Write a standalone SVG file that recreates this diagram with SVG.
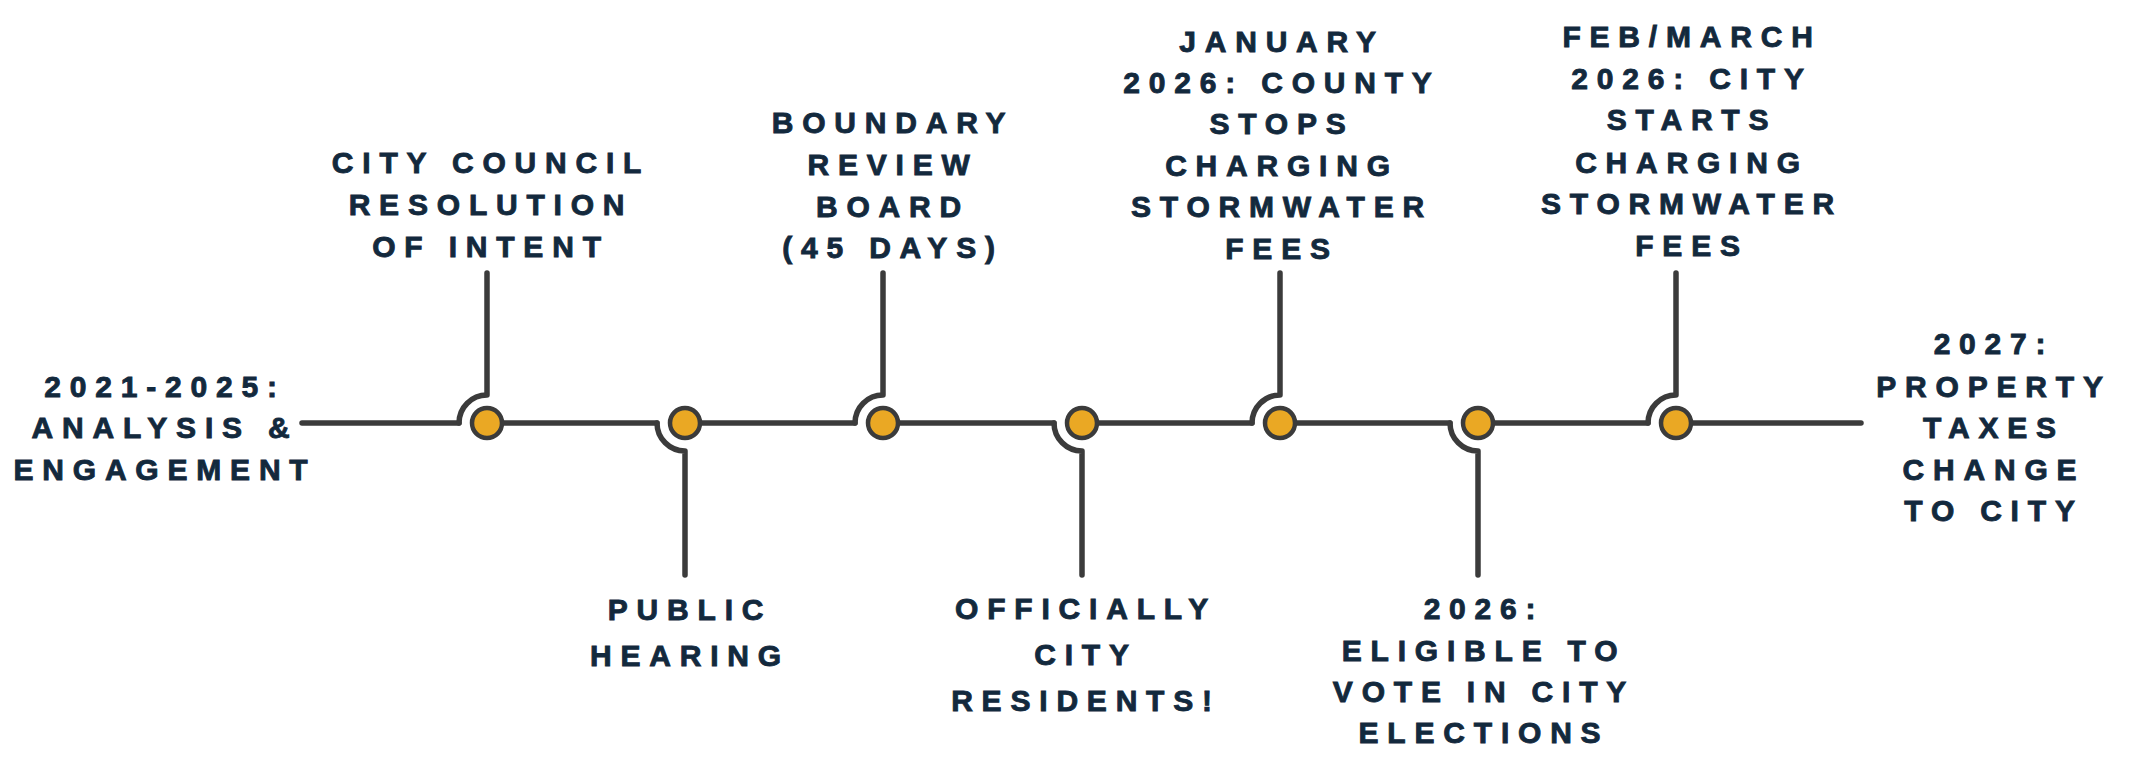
<svg xmlns="http://www.w3.org/2000/svg" width="2134" height="771" viewBox="0 0 2134 771">
<style>
.ln{fill:none;stroke:#3b3b3b;stroke-width:5.5;stroke-linecap:round;stroke-linejoin:round}
.dot{fill:#eaa824;stroke:#3b3b3b;stroke-width:4.5}
.t{font-family:"Liberation Sans",Arial,sans-serif;font-weight:bold;font-size:30px;letter-spacing:8.8px;fill:#13293d;stroke:#13293d;stroke-width:0.9;text-anchor:middle}
</style>
<rect width="2134" height="771" fill="#ffffff"/>
<g id="connectors">
<path class="ln" d="M302,423 L459,423"/>
<path class="ln" d="M487,423 L657,423"/>
<path class="ln" d="M685,423 L855,423"/>
<path class="ln" d="M883,423 L1054,423"/>
<path class="ln" d="M1082,423 L1252,423"/>
<path class="ln" d="M1280,423 L1450,423"/>
<path class="ln" d="M1478,423 L1648,423"/>
<path class="ln" d="M1676,423 L1861,423"/>
<path class="ln" d="M459,423 A28,28 0 0 1 487,395 L487,273"/>
<path class="ln" d="M657,423 A28,28 0 0 0 685,451 L685,575"/>
<path class="ln" d="M855,423 A28,28 0 0 1 883,395 L883,273"/>
<path class="ln" d="M1054,423 A28,28 0 0 0 1082,451 L1082,575"/>
<path class="ln" d="M1252,423 A28,28 0 0 1 1280,395 L1280,273"/>
<path class="ln" d="M1450,423 A28,28 0 0 0 1478,451 L1478,575"/>
<path class="ln" d="M1648,423 A28,28 0 0 1 1676,395 L1676,273"/>
</g>
<g id="start">
<text class="t" x="165" y="397">2021-2025:</text>
<text class="t" x="165" y="438">ANALYSIS &amp;</text>
<text class="t" x="165" y="480">ENGAGEMENT</text>
</g>
<g id="node1">
<circle class="dot" cx="487" cy="423" r="15"/>
<text class="t" x="491" y="173">CITY COUNCIL</text>
<text class="t" x="491" y="215">RESOLUTION</text>
<text class="t" x="491" y="257">OF INTENT</text>
</g>
<g id="node2">
<circle class="dot" cx="685" cy="423" r="15"/>
<text class="t" x="690" y="620">PUBLIC</text>
<text class="t" x="690" y="666">HEARING</text>
</g>
<g id="node3">
<circle class="dot" cx="883" cy="423" r="15"/>
<text class="t" x="893" y="133">BOUNDARY</text>
<text class="t" x="893" y="175">REVIEW</text>
<text class="t" x="893" y="217">BOARD</text>
<text class="t" x="893" y="258">(45 DAYS)</text>
</g>
<g id="node4">
<circle class="dot" cx="1082" cy="423" r="15"/>
<text class="t" x="1086" y="619">OFFICIALLY</text>
<text class="t" x="1086" y="665">CITY</text>
<text class="t" x="1086" y="711">RESIDENTS!</text>
</g>
<g id="node5">
<circle class="dot" cx="1280" cy="423" r="15"/>
<text class="t" x="1282" y="52">JANUARY</text>
<text class="t" x="1282" y="93">2026: COUNTY</text>
<text class="t" x="1282" y="134">STOPS</text>
<text class="t" x="1282" y="176">CHARGING</text>
<text class="t" x="1282" y="217">STORMWATER</text>
<text class="t" x="1282" y="259">FEES</text>
</g>
<g id="node6">
<circle class="dot" cx="1478" cy="423" r="15"/>
<text class="t" x="1484" y="619">2026:</text>
<text class="t" x="1484" y="661">ELIGIBLE TO</text>
<text class="t" x="1484" y="702">VOTE IN CITY</text>
<text class="t" x="1484" y="743">ELECTIONS</text>
</g>
<g id="node7">
<circle class="dot" cx="1676" cy="423" r="15"/>
<text class="t" x="1692" y="47">FEB/MARCH</text>
<text class="t" x="1692" y="89">2026: CITY</text>
<text class="t" x="1692" y="130">STARTS</text>
<text class="t" x="1692" y="173">CHARGING</text>
<text class="t" x="1692" y="214">STORMWATER</text>
<text class="t" x="1692" y="256">FEES</text>
</g>
<g id="end">
<text class="t" x="1994" y="354">2027:</text>
<text class="t" x="1994" y="397">PROPERTY</text>
<text class="t" x="1994" y="438">TAXES</text>
<text class="t" x="1994" y="480">CHANGE</text>
<text class="t" x="1994" y="521">TO CITY</text>
</g>
</svg>
